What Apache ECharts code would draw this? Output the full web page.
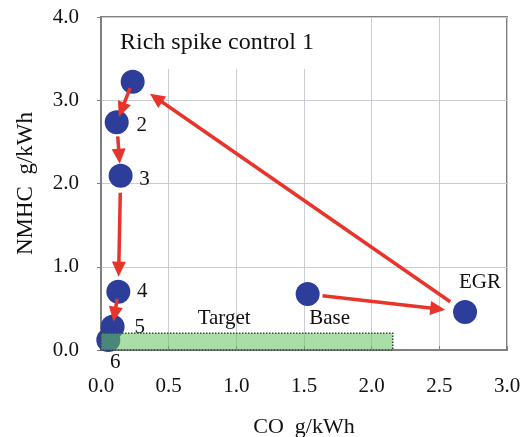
<!DOCTYPE html>
<html>
<head>
<meta charset="utf-8">
<script src="https://cdn.jsdelivr.net/npm/echarts@6/dist/echarts.min.js"></script>
<style>
html,body{margin:0;padding:0;background:#fff;}
#chart{width:527px;height:437px;}
</style>
</head>
<body>
<div id="chart"></div>
<script>
// ---- data ----
const pointNames = ['1', '2', '3', '4', '5', '6', 'Base', 'EGR'];
const pointLabels = ['', '2', '3', '4', '5', '6', 'Base', 'EGR'];
const coValues = [0.234, 0.116, 0.145, 0.128, 0.086, 0.054, 1.527, 2.69];
const nmhcValues = [3.223, 2.735, 2.094, 0.70, 0.28, 0.12, 0.673, 0.456];
// arrows: [fromIndex, toIndex]
const arrowPairs = [[6, 7], [7, 0], [0, 1], [1, 2], [2, 3], [3, 4]];
const targetCO = [0, 2.156];
const targetNMHC = [0, 0.2];
const targetLabel = 'Target';
const targetLabelAt = [0.91, 0.38];
const titleText = 'Rich spike control 1';
const xTickRange = [0, 3.0, 0.5];
const yTickRange = [0, 4.0, 1.0];

// ---- styles ----
const FONT = '"Liberation Serif", "Times New Roman", serif';
const labelOffsets = [[0, 0], [25, 3], [24, 4], [24, 0], [27, 1], [7, 22], [22, 25], [15, -30]];
// pixel shortening at start / end of each arrow
const arrowTrim = [[15, 20], [18, 21], [7, 6], [14, 12], [17, 15], [7, 5]];

const chart = echarts.init(document.getElementById('chart'), null, {renderer: 'canvas'});

const pts = coValues.map((v, i) => ({
  value: [v, nmhcValues[i]],
  name: pointNames[i],
  label: {
    show: pointLabels[i] !== '',
    formatter: pointLabels[i],
    position: 'inside',
    offset: labelOffsets[i],
    color: '#111',
    fontFamily: FONT,
    fontSize: 21
  }
}));

const arrowData = arrowPairs.map((p, i) => [
  coValues[p[0]], nmhcValues[p[0]], coValues[p[1]], nmhcValues[p[1]], arrowTrim[i][0], arrowTrim[i][1]
]);

chart.setOption({
  animation: false,
  backgroundColor: '#fff',
  grid: {left: 101, right: 20, top: 17, bottom: 87, containLabel: false, outerBoundsMode: 'none',
         show: true, borderColor: '#808080', borderWidth: 2},
  xAxis: {
    type: 'value', min: xTickRange[0], max: xTickRange[1], interval: xTickRange[2],
    name: 'CO  g/kWh', nameLocation: 'middle', nameGap: 66,
    nameTextStyle: {fontFamily: FONT, fontSize: 22, color: '#111'},
    axisLine: {show: true, lineStyle: {color: '#808080', width: 2}},
    axisTick: {show: true, inside: true, length: 4, lineStyle: {color: '#808080'}},
    axisLabel: {fontFamily: FONT, fontSize: 21, color: '#111', margin: 26, formatter: v => v.toFixed(1)},
    splitLine: {show: true, lineStyle: {color: '#c9cdd3', width: 1}}
  },
  yAxis: {
    type: 'value', min: yTickRange[0], max: yTickRange[1], interval: yTickRange[2],
    name: 'NMHC  g/kWh', nameLocation: 'middle', nameGap: 64, nameRotate: 90,
    nameTextStyle: {fontFamily: FONT, fontSize: 23, color: '#111'},
    axisLine: {show: true, lineStyle: {color: '#808080', width: 2}},
    axisTick: {show: true, inside: false, length: 4, lineStyle: {color: '#808080'}},
    axisLabel: {fontFamily: FONT, fontSize: 21, color: '#111', margin: 22, formatter: v => v.toFixed(1)},
    splitLine: {show: true, lineStyle: {color: '#c9cdd3', width: 1}}
  },
  graphic: [
    {type: 'rect', left: 102, top: 18, shape: {width: 216, height: 51}, style: {fill: '#fff'}, z: 1},
    {type: 'text', left: 120, top: 31, style: {text: titleText, font: '24px ' + FONT, fill: '#111'}, z: 2}
  ],
  series: [
    {
      type: 'scatter', z: 3,
      symbol: 'circle', symbolSize: 24,
      itemStyle: {color: '#2d3e9a', opacity: 1},
      data: pts
    },
    {
      type: 'custom', z: 4,
      renderItem: function (params, api) {
        const c0 = api.coord([targetCO[0], targetNMHC[1]]);
        const c1 = api.coord([targetCO[1], targetNMHC[0]]);
        const tp = api.coord(targetLabelAt);
        return {
          type: 'group',
          children: [
            {type: 'rect', shape: {x: c0[0], y: c0[1], width: c1[0] - c0[0], height: c1[1] - c0[1]},
             style: {fill: 'rgba(100,195,95,0.55)', stroke: '#3a4a3a', lineWidth: 1.5, lineDash: [1.5, 1.5]}},
            {type: 'text', x: tp[0], y: tp[1],
             style: {text: targetLabel, font: '21px ' + FONT, fill: '#111', align: 'center', verticalAlign: 'middle'}}
          ]
        };
      },
      data: [[0]]
    },
    {
      type: 'custom', z: 5,
      renderItem: function (params, api) {
        const a = api.coord([api.value(0), api.value(1)]);
        const b = api.coord([api.value(2), api.value(3)]);
        const t0 = api.value(4), t1 = api.value(5);
        const dx = b[0] - a[0], dy = b[1] - a[1];
        const len = Math.sqrt(dx * dx + dy * dy);
        const ux = dx / len, uy = dy / len;
        const s = [a[0] + ux * t0, a[1] + uy * t0];
        const e = [b[0] - ux * t1, b[1] - uy * t1];
        const hl = 15, hw = 7;
        const base = [e[0] - ux * hl, e[1] - uy * hl];
        const nx = -uy, ny = ux;
        return {
          type: 'group',
          children: [
            {type: 'line', shape: {x1: s[0], y1: s[1], x2: base[0] + ux * 2, y2: base[1] + uy * 2},
             style: {stroke: '#e8352b', lineWidth: 3.5}},
            {type: 'polygon', shape: {points: [e, [base[0] + nx * hw, base[1] + ny * hw], [base[0] - nx * hw, base[1] - ny * hw]]},
             style: {fill: '#e8352b'}}
          ]
        };
      },
      data: arrowData
    }
  ]
});
</script>
</body>
</html>
